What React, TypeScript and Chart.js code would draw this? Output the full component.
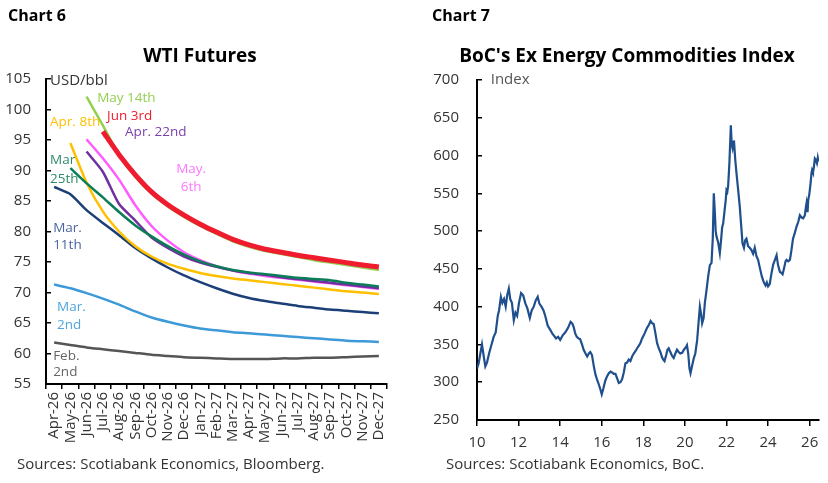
import React, { useEffect, useRef } from 'react';
import { Chart, registerables } from 'chart.js';

Chart.register(...registerables);

const FONT = '"Open Sans", sans-serif';

// ---------- Chart 6: WTI futures curves ----------
const months = [
  'Apr-26', 'May-26', 'Jun-26', 'Jul-26', 'Aug-26', 'Sep-26', 'Oct-26', 'Nov-26', 'Dec-26',
  'Jan-27', 'Feb-27', 'Mar-27', 'Apr-27', 'May-27', 'Jun-27', 'Jul-27', 'Aug-27', 'Sep-27',
  'Oct-27', 'Nov-27', 'Dec-27',
];
const feb2 = [61.8, 61.4, 61.0, 60.7, 60.4, 60.1, 59.8, 59.6, 59.4, 59.3, 59.2, 59.1, 59.1, 59.1, 59.2, 59.2, 59.3, 59.3, 59.4, 59.5, 59.6];
const mar2 = [71.3, 70.7, 69.9, 69.0, 68.0, 66.9, 65.9, 65.2, 64.6, 64.1, 63.8, 63.5, 63.3, 63.1, 62.9, 62.7, 62.5, 62.3, 62.1, 62.0, 61.9];
const mar11 = [87.3, 86.1, 83.5, 81.4, 79.4, 77.3, 75.6, 74.1, 72.8, 71.7, 70.7, 69.8, 69.1, 68.6, 68.2, 67.8, 67.5, 67.2, 67.0, 66.8, 66.6];
const mar25 = [null, 90.4, 87.9, 85.6, 83.2, 81.0, 79.2, 77.6, 76.2, 75.1, 74.3, 73.7, 73.3, 73.0, 72.7, 72.4, 72.2, 72.0, 71.6, 71.3, 71.0];
const apr8 = [null, 94.5, 88.0, 83.3, 80.0, 77.6, 75.9, 74.7, 73.9, 73.2, 72.7, 72.3, 72.0, 71.7, 71.4, 71.1, 70.8, 70.5, 70.2, 70.0, 69.75];
const apr22 = [null, null, 93.1, 89.8, 84.5, 81.8, 79.0, 77.3, 75.9, 74.9, 74.2, 73.6, 73.2, 72.9, 72.5, 72.2, 71.9, 71.6, 71.3, 71.0, 70.7];
const may6 = [null, null, 95.1, 92.0, 88.5, 84.3, 80.9, 78.5, 76.6, 75.3, 74.3, 73.6, 73.1, 72.7, 72.4, 72.1, 71.8, 71.5, 71.2, 70.9, 70.6];
const may14 = [null, null, 102.1, 97.4, 92.6, 89.0, 86.2, 84.1, 82.4, 80.9, 79.6, 78.4, 77.5, 76.8, 76.3, 75.8, 75.3, 74.9, 74.5, 74.1, 73.7];
const jun3 = [null, null, null, 96.4, 92.6, 89.3, 86.5, 84.4, 82.7, 81.2, 79.9, 78.7, 77.8, 77.1, 76.6, 76.1, 75.7, 75.3, 74.9, 74.5, 74.2];

const wtiSeries = [
  { name: 'Jun 3rd', data: jun3, color: '#ee1c2e', width: 5 },
  { name: 'May 14th', data: may14, color: '#92d050', width: 2.5 },
  { name: 'Mar 25th', data: mar25, color: '#0b7d57', width: 2.5 },
  { name: 'Apr 22nd', data: apr22, color: '#7030a0', width: 2.5 },
  { name: 'May 6th', data: may6, color: '#ff5cff', width: 2.5 },
  { name: 'Apr 8th', data: apr8, color: '#ffc000', width: 2.5 },
  { name: 'Mar 11th', data: mar11, color: '#1c3f78', width: 2.5 },
  { name: 'Mar 2nd', data: mar2, color: '#3d9ad9', width: 2.5 },
  { name: 'Feb 2nd', data: feb2, color: '#555555', width: 2.5 },
];

// text labels for chart 6 (x = category index, y = value)
const wtiLabels = [
  { text: 'USD/bbl', x: -0.25, y: 104.7, color: '#333333', align: 'left', size: 15 },
  { text: 'May 14th', x: 2.65, y: 101.9, color: '#92d050', align: 'left' },
  { text: 'Jun 3rd', x: 3.26, y: 98.9, color: '#ee1c2e', align: 'left' },
  { text: 'Apr. 8th', x: -0.25, y: 98.0, color: '#ffc000', align: 'left' },
  { text: 'Apr. 22nd', x: 4.37, y: 96.3, color: '#7a3fa8', align: 'left' },
  { text: 'Mar', x: -0.25, y: 91.7, color: '#2e8c68', align: 'left' },
  { text: '25th', x: -0.25, y: 88.6, color: '#2e8c68', align: 'left' },
  { text: 'May.', x: 8.44, y: 90.2, color: '#ff77ff', align: 'center' },
  { text: '6th', x: 8.44, y: 87.3, color: '#ff77ff', align: 'center' },
  { text: 'Mar.', x: -0.06, y: 80.6, color: '#4a66a0', align: 'left' },
  { text: '11th', x: -0.06, y: 77.8, color: '#4a66a0', align: 'left' },
  { text: 'Mar.', x: 0.18, y: 67.6, color: '#4fa6de', align: 'left' },
  { text: '2nd', x: 0.18, y: 64.7, color: '#4fa6de', align: 'left' },
  { text: 'Feb.', x: -0.06, y: 59.6, color: '#666666', align: 'left' },
  { text: '2nd', x: -0.06, y: 57.0, color: '#666666', align: 'left' },
];

// ---------- Chart 7: BoC ex-energy commodities index ----------
const bocYears = [
  10.00, 10.08, 10.16, 10.24, 10.32, 10.40, 10.48, 10.58, 10.70, 10.80, 10.90,
  11.00, 11.06, 11.15, 11.22, 11.30, 11.38, 11.45, 11.53, 11.60, 11.68, 11.77, 11.85, 11.93,
  12.02, 12.12, 12.22, 12.33, 12.42, 12.54, 12.63, 12.73, 12.82, 12.92,
  13.00, 13.10, 13.20, 13.29, 13.40, 13.53, 13.61, 13.69, 13.80, 13.90,
  14.00, 14.12, 14.25, 14.38, 14.50, 14.58, 14.65, 14.72, 14.80, 14.88, 14.96,
  15.05, 15.13, 15.22, 15.30, 15.38, 15.45, 15.53, 15.62, 15.70, 15.78, 15.86, 15.94,
  16.00, 16.08, 16.17, 16.26, 16.34, 16.42, 16.50, 16.58, 16.66, 16.74, 16.82, 16.90, 16.98,
  17.06, 17.14, 17.22, 17.30, 17.38, 17.46, 17.54, 17.62, 17.70, 17.78, 17.86, 17.94,
  18.02, 18.10, 18.18, 18.27, 18.35, 18.43, 18.50, 18.58, 18.66, 18.74, 18.82, 18.90, 18.96,
  19.02, 19.10, 19.16, 19.22, 19.30, 19.38, 19.46, 19.54, 19.62, 19.70, 19.78, 19.87, 19.95,
  20.04, 20.10, 20.16, 20.22, 20.27, 20.35, 20.43, 20.50, 20.59, 20.66, 20.72, 20.78, 20.83, 20.90, 20.96,
  21.04, 21.12, 21.20, 21.28, 21.34, 21.39, 21.44, 21.48, 21.52, 21.60, 21.68, 21.74, 21.79, 21.84, 21.90, 21.96,
  22.00, 22.04, 22.08, 22.14, 22.21, 22.25, 22.29, 22.33, 22.36, 22.42, 22.48, 22.56, 22.64, 22.70, 22.77, 22.84, 22.90, 22.96,
  23.04, 23.12, 23.20, 23.28, 23.36, 23.44, 23.52, 23.60, 23.70, 23.80, 23.88, 23.94,
  24.00, 24.08, 24.17, 24.25, 24.33, 24.41, 24.48, 24.57, 24.63, 24.70, 24.78, 24.84, 24.89, 24.97,
  25.05, 25.12, 25.20, 25.28, 25.37, 25.45, 25.53, 25.61, 25.69, 25.77, 25.82, 25.85, 25.90, 25.93, 25.98,
  26.04, 26.09, 26.12, 26.16, 26.20, 26.25, 26.30, 26.35, 26.39, 26.42,
];
const bocValues = [
  318, 325, 338, 350, 335, 321, 326, 338, 350, 360, 366,
  388, 395, 413, 405, 410, 400, 415, 424, 410, 405, 382, 392, 388,
  405, 418, 415, 404, 398, 385, 395, 400, 408, 413,
  404, 400, 395, 387, 375, 369, 365, 362, 358, 360,
  356, 362, 366, 372, 380, 378, 373, 365, 360, 358, 357,
  350, 343, 338, 334, 338, 340, 336, 321, 310, 303, 297, 290,
  284, 292, 302, 308, 312, 314, 313, 311, 311, 305, 299, 300, 304,
  313, 325, 326, 330, 328, 334, 338, 341, 345, 348, 352, 358,
  362, 367, 372, 376, 381, 378, 377, 365, 352, 345, 340, 333, 330,
  328, 336, 343, 345, 340, 335, 332, 338, 343, 340, 338, 339, 343,
  346, 349, 338, 318, 312, 322, 332, 338, 356, 380, 400, 390, 378, 385, 405,
  422, 440, 455, 458, 490, 550, 525, 500, 493, 485, 471, 488, 505, 510, 525, 540,
  554, 552, 560, 590, 640, 615, 610, 618, 620, 595, 577, 555, 532, 510, 484, 478, 488, 490,
  480, 478, 475, 470, 478, 467, 462, 452, 440, 432, 428, 432,
  427, 430, 445, 456, 462, 468, 455, 446, 445, 443, 452, 460, 462, 460,
  462, 474, 490, 497, 506, 512, 521, 518, 517, 521, 532, 537, 525, 541, 548,
  562, 577, 581, 578, 584, 596, 594, 590, 597, 592,
];

const textLabelsPlugin = {
  id: 'textLabels',
  afterDatasetsDraw(chart: any, _args: any, opts: any) {
    const items = (opts && opts.items) || [];
    const { ctx, scales } = chart;
    ctx.save();
    for (const l of items) {
      const x = scales.x.getPixelForValue(l.x);
      const y = scales.y.getPixelForValue(l.y);
      ctx.font = `${l.size || 13.5}px ${FONT}`;
      ctx.fillStyle = l.color;
      ctx.textAlign = l.align;
      ctx.textBaseline = 'middle';
      ctx.fillText(l.text, x, y);
    }
    ctx.restore();
  },
};

const tickFont = { family: FONT, size: 15 };

function WtiChart() {
  const ref = useRef<HTMLCanvasElement>(null);
  useEffect(() => {
    const chart = new Chart(ref.current as HTMLCanvasElement, {
      type: 'line',
      data: {
        labels: months,
        datasets: wtiSeries.map((s) => ({
          label: s.name,
          data: s.data,
          borderColor: s.color,
          backgroundColor: s.color,
          borderWidth: s.width,
          pointRadius: 0,
          tension: 0.2,
          fill: false,
        })),
      },
      options: {
        animation: false,
        responsive: false,
        layout: { padding: { left: 0, right: 27, top: 79, bottom: 35 } },
        plugins: {
          legend: { display: false },
          tooltip: { enabled: false },
          title: { display: false },
          textLabels: { items: wtiLabels },
        } as any,
        scales: {
          x: {
            type: 'category',
            offset: true,
            grid: { display: true, offset: true, drawOnChartArea: false, tickLength: 5, color: '#000', lineWidth: 1.5 },
            border: { display: true, color: '#000', width: 2 },
            ticks: {
              autoSkip: false,
              minRotation: 90,
              maxRotation: 90,
              color: '#333',
              padding: 3,
              font: tickFont,
            },
            afterFit: (s: any) => { s.height = 64; },
          },
          y: {
            type: 'linear',
            min: 55,
            max: 105,
            ticks: { stepSize: 5, color: '#333', padding: 20, font: tickFont },
            grid: { drawOnChartArea: false, tickLength: -5, color: '#000', lineWidth: 1.5 },
            border: { display: true, color: '#000', width: 2 },
            afterFit: (s: any) => { s.width = 46; },
          },
        },
      },
      plugins: [textLabelsPlugin as any],
    });
    return () => chart.destroy();
  }, []);
  return <canvas ref={ref} width={414} height={483} style={{ position: 'absolute', left: 0, top: 0, width: 414, height: 483 }} />;
}

function BocChart() {
  const ref = useRef<HTMLCanvasElement>(null);
  useEffect(() => {
    const points = bocYears.map((x, i) => ({ x, y: bocValues[i] }));
    const chart = new Chart(ref.current as HTMLCanvasElement, {
      type: 'line',
      data: {
        datasets: [
          {
            label: 'BoC ex energy',
            data: points,
            borderColor: '#1f4f8c',
            backgroundColor: '#1f4f8c',
            borderWidth: 2.2,
            pointRadius: 0,
            tension: 0,
            fill: false,
          },
        ],
      },
      options: {
        animation: false,
        responsive: false,
        layout: { padding: { left: 0, right: 9, top: 80, bottom: 29 } },
        plugins: {
          legend: { display: false },
          tooltip: { enabled: false },
          title: { display: false },
          textLabels: { items: [{ text: 'Index', x: 10.66, y: 700, color: '#555555', align: 'left', size: 15 }] },
        } as any,
        scales: {
          x: {
            type: 'linear',
            min: 10,
            max: 26.45,
            ticks: { stepSize: 2, includeBounds: false, color: '#333', padding: 8, font: tickFont },
            grid: { drawOnChartArea: false, tickLength: 6, color: '#000', lineWidth: 1.5 },
            border: { display: true, color: '#000', width: 2 },
            afterFit: (s: any) => { s.height = 34; },
          },
          y: {
            type: 'linear',
            min: 250,
            max: 700,
            ticks: { stepSize: 50, color: '#333', padding: 23, font: tickFont },
            grid: { drawOnChartArea: false, tickLength: -5, color: '#000', lineWidth: 1.5 },
            border: { display: true, color: '#000', width: 2 },
            afterFit: (s: any) => { s.width = 63; },
          },
        },
      },
      plugins: [textLabelsPlugin as any],
    });
    return () => chart.destroy();
  }, []);
  return <canvas ref={ref} width={414} height={483} style={{ position: 'absolute', left: 414, top: 0, width: 414, height: 483 }} />;
}

const headStyle: React.CSSProperties = {
  position: 'absolute',
  top: 5,
  fontFamily: FONT,
  fontWeight: 'bold',
  fontSize: 16,
  lineHeight: '20px',
  color: '#000',
  whiteSpace: 'nowrap',
};
const titleStyle: React.CSSProperties = {
  position: 'absolute',
  top: 43,
  fontFamily: FONT,
  fontWeight: 'bold',
  fontSize: 19,
  lineHeight: '24px',
  color: '#000',
  whiteSpace: 'nowrap',
  transform: 'translateX(-50%)',
};
const srcStyle: React.CSSProperties = {
  position: 'absolute',
  top: 454,
  fontFamily: FONT,
  fontSize: 15,
  lineHeight: '18px',
  color: '#333',
  whiteSpace: 'nowrap',
};

export default function App() {
  return (
    <div style={{ position: 'absolute', left: 0, top: 0, width: 828, height: 483, background: '#fff', overflow: 'hidden' }}>
      <WtiChart />
      <BocChart />
      <div style={{ ...headStyle, left: 8 }}>Chart 6</div>
      <div style={{ ...headStyle, left: 432 }}>Chart 7</div>
      <div style={{ ...titleStyle, left: 200 }}>WTI Futures</div>
      <div style={{ ...titleStyle, left: 627 }}>BoC's Ex Energy Commodities Index</div>
      <div style={{ ...srcStyle, left: 17 }}>Sources: Scotiabank Economics, Bloomberg.</div>
      <div style={{ ...srcStyle, left: 446 }}>Sources: Scotiabank Economics, BoC.</div>
    </div>
  );
}
